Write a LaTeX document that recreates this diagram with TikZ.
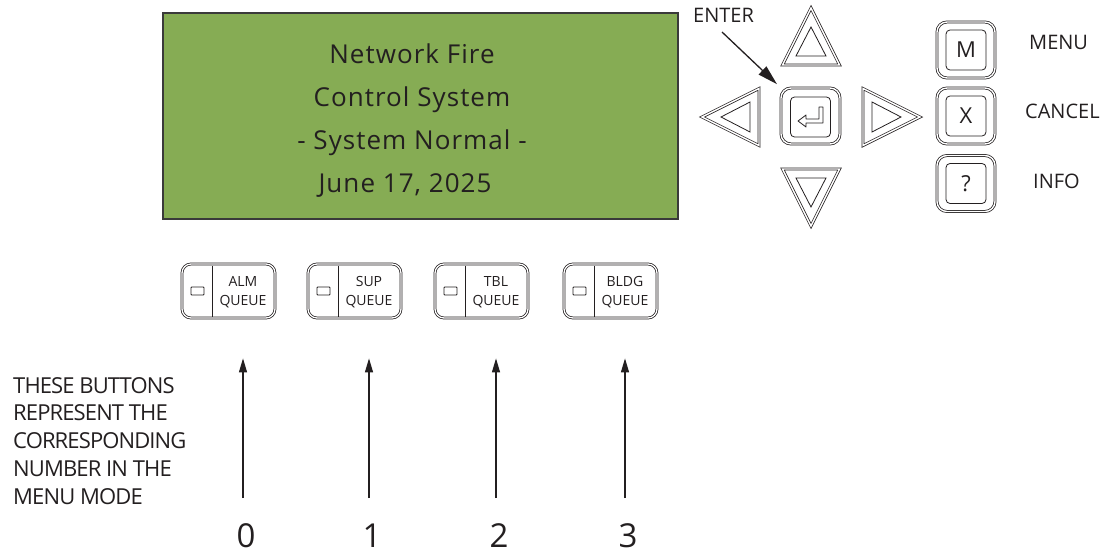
\documentclass[tikz,border=0pt]{standalone}
\usepackage{fontspec}
\setmainfont{Open Sans}
\newfontfamily\lcdfont[LetterSpace=4]{Open Sans}
\newfontfamily\condfont[LetterSpace=-4]{Open Sans}
\usetikzlibrary{arrows.meta}
\definecolor{ink}{HTML}{231F20}
\definecolor{lcdgreen}{HTML}{86AC54}
\definecolor{lcdedge}{HTML}{3A3A3A}
\begin{document}
\begin{tikzpicture}[x=1pt,y=-1pt,
  outerbtn/.style={draw=ink, double=white, double distance=1.4pt, line width=0.75pt, rounded corners=10pt, inner sep=0pt},
  innerbtn/.style={draw=ink, line width=0.8pt, rounded corners=4pt, minimum width=40pt, minimum height=40pt, inner sep=0pt, font=\fontsize{22}{26}\selectfont, text=ink},
  tripoly/.style={draw=ink, double=white, double distance=1.4pt, line width=0.75pt},
  trinner/.style={draw=ink, line width=0.8pt},
  qouter/.style={draw=ink, double=white, double distance=1.3pt, line width=0.75pt, rounded corners=9pt, minimum width=93pt, minimum height=54pt, inner sep=0pt},
  qdiv/.style={draw=ink, line width=1pt},
  qled/.style={draw=ink, line width=0.8pt, rounded corners=0.8pt},
  qtext/.style={font=\fontsize{14}{16}\selectfont, text=ink, inner sep=0pt},
  lbl/.style={font=\fontsize{20}{24}\selectfont, text=ink, inner sep=0pt},
  lcdtext/.style={font=\lcdfont\fontsize{26}{30}\selectfont, text=ink, inner sep=0pt, anchor=base},
  sidetext/.style={font=\condfont\fontsize{22}{26}\selectfont, text=ink, inner sep=0pt, anchor=base west},
  digit/.style={font=\fontsize{33}{38}\selectfont, text=ink, inner sep=0pt, text depth=0pt, anchor=base},
  qarrow/.style={draw=ink, line width=1.3pt, -{Triangle[length=14pt,width=8pt]}},
  enterarrow/.style={draw=ink, line width=1.3pt, -{Triangle[length=20pt,width=11pt]}},
]
\useasboundingbox (0,0) rectangle (1120,554);

% LCD display
\node[draw=lcdedge, fill=lcdgreen, line width=1.5pt, minimum width=515pt, minimum height=206pt, inner sep=0pt] (lcd) at (420.5,116) {};
\node[lcdtext] (l1) at (412,63) {Network Fire};
\node[lcdtext] (l2) at (412,106) {Control System};
\node[lcdtext] (l3) at (412,149) {- System Normal -};
\node[lcdtext] (l4) at (405,192) {June 17, 2025};

% direction pad
\draw[tripoly] (811,8) -- (782.5,65) -- (839.5,65) -- cycle;
\draw[trinner] (811,27) -- (796,56) -- (826,56) -- cycle;
\draw[tripoly] (811,226) -- (782.5,169) -- (839.5,169) -- cycle;
\draw[trinner] (811,207) -- (796,178) -- (826,178) -- cycle;
\draw[tripoly] (702,117) -- (759,88.5) -- (759,145.5) -- cycle;
\draw[trinner] (721,117) -- (750,102) -- (750,132) -- cycle;
\draw[tripoly] (920,117) -- (863,88.5) -- (863,145.5) -- cycle;
\draw[trinner] (901,117) -- (872,102) -- (872,132) -- cycle;

% enter button
\node[outerbtn, minimum width=59pt, minimum height=56pt] (enterbtn) at (810.5,116) {};
\node[innerbtn] (enterin) at (810.5,117) {};
\draw[draw=ink, line width=0.8pt, line join=round] (819,107) -- (823,107) -- (823,123) -- (806,123) -- (806,127) -- (798,121) -- (806,115) -- (806,119) -- (819,119) -- cycle;

\node[lbl, anchor=west] (enterlbl) at (693,15) {ENTER};
\coordinate (entertail) at (722,32);
\draw[enterarrow, shorten >=5pt] (entertail) -- (enterbtn.north west);

% menu / cancel / info
\node[outerbtn, minimum width=58pt, minimum height=56pt] (menubtn) at (966,50) {};
\node[innerbtn] (menuin) at (966,50) {M};
\node[outerbtn, minimum width=58pt, minimum height=56pt] (cancelbtn) at (966,116) {};
\node[innerbtn] (cancelin) at (966,116) {X};
\node[outerbtn, minimum width=58pt, minimum height=56pt] (infobtn) at (966,183.5) {};
\node[innerbtn] (infoin) at (966,183.5) {?};

\node[lbl, anchor=west] (menulbl) at (1029,42) {MENU};
\node[lbl, anchor=west] (cancellbl) at (1025,111) {CANCEL};
\node[lbl, anchor=west] (infolbl) at (1033,181) {INFO};

% queue buttons
\foreach \i/\L/\word in {0/182/ALM,1/308/SUP,2/435/TBL,3/564/BLDG} {
  \node[qouter] (q\i) at (\L+46.5,291) {};
  \draw[qdiv] (\L+30,265.5) -- (\L+30,316.5);
  \draw[qled] (\L+9,287) rectangle (\L+22,295);
  \node[qtext, anchor=base] (qa\i) at (\L+61,286.5) {\word};
  \node[qtext, anchor=base] (qb\i) at (\L+61,305) {QUEUE};
  \node[digit] (d\i) at (\L+64,547) {\i};
  \coordinate (t\i) at (\L+61,498);
  \draw[qarrow, shorten >=40pt] (t\i) -- (t\i |- q\i.south);
}

% explanation text
\node[sidetext] (s1) at (13,393) {THESE BUTTONS};
\node[sidetext] (s2) at (13,420.75) {REPRESENT THE};
\node[sidetext] (s3) at (13,448.5) {CORRESPONDING};
\node[sidetext] (s4) at (13,476.25) {NUMBER IN THE};
\node[sidetext] (s5) at (13,504) {MENU MODE};
\end{tikzpicture}
\end{document}
